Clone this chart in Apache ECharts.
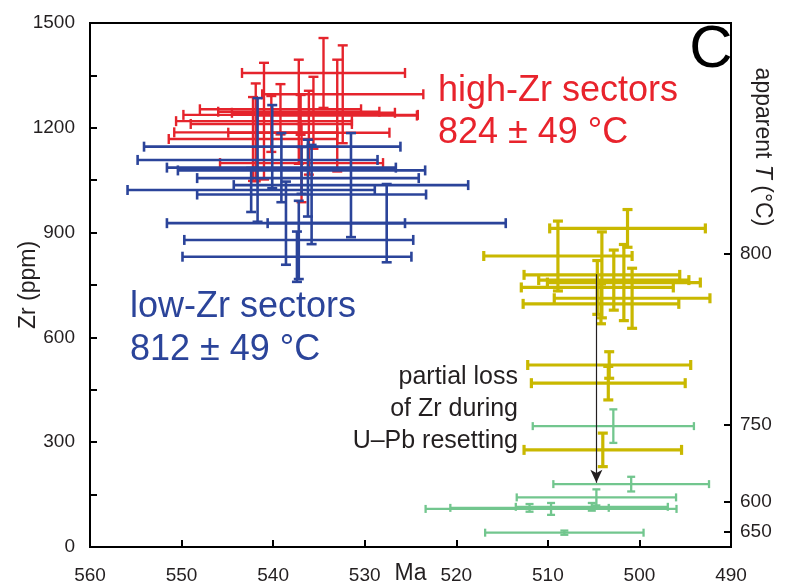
<!DOCTYPE html>
<html>
<head>
<meta charset="utf-8">
<script src="https://cdn.jsdelivr.net/npm/echarts@6/dist/echarts.min.js"></script>
<style>
  html, body { margin: 0; padding: 0; background: #fff; }
  #chart { width: 793px; height: 584px; }
</style>
</head>
<body>
<div id="chart"></div>
<script>
// each row: [age Ma, age error, Zr ppm, Zr error]
var highZr = [
  [534.5, 8.9, 1357, 100],
  [532.4, 8.8, 1296, 140],
  [539.2, 8.8, 1253, 72],
  [537.2, 8.8, 1246, 149],
  [535.6, 8.9, 1243, 103],
  [541.0, 9.6, 1219, 167],
  [536.1, 8.8, 1186, 120],
  [542.2, 9.2, 1168, 120],
  [536.9, 8.9, 1099, 112],
  [533.0, 8.7, 1235, 160],
  [537.0, 12.8, 1237, 57],
  [541.9, 8.9, 1187, 140],
  [540.2, 8.8, 1211, 80]
];
var lowZr = [
  [540.1, 14.0, 1146, 119],
  [539.1, 12.5, 1086, 99],
  [538.6, 13.0, 927, 119],
  [537.4, 12.5, 831, 72],
  [537.2, 12.5, 879, 112],
  [536.9, 13.5, 1078, 67],
  [536.2, 12.1, 1056, 110],
  [535.8, 12.5, 1009, 142],
  [531.5, 12.8, 1036, 149],
  [542.4, 13.5, 1022, 63],
  [541.7, 13.1, 1108, 177],
  [527.6, 13.0, 927, 112]
];
var resetHigh = [
  [508.9, 8.1, 833, 100],
  [501.3, 8.5, 912, 54],
  [504.6, 8.3, 743, 77],
  [502.8, 8.2, 764, 86],
  [501.7, 8.35, 757, 109],
  [500.8, 8.5, 712, 86],
  [504.1, 8.5, 779, 123],
  [504.2, 8.5, 696, 57],
  [503.3, 8.9, 521, 38],
  [503.4, 8.4, 469, 48],
  [504.0, 8.6, 278, 48]
];
var resetLow = [
  [502.85, 8.8, 346, 48],
  [500.9, 8.5, 180, 21],
  [504.7, 8.7, 142, 23],
  [509.65, 13.7, 109, 17],
  [512.0, 8.65, 112, 11],
  [505.2, 8.3, 115, 11],
  [508.2, 8.65, 41, 6]
];

// apparent temperature ticks on the right axis, placed at Zr values
var tempTickZr = [839, 351, 130, 44];
var tempTickLabels = ['800', '750', '600', '650'];

// resetting arrow
var arrowMa = 504.7;
var arrowZr = [781, 184];

var ink = '#231f20';
var font = 'Liberation Sans, Arial, sans-serif';

function errorBars(width, cap) {
  return function (params, api) {
    var x = api.value(0), ex = api.value(1), y = api.value(2), ey = api.value(3);
    var l = api.coord([x - ex, y]);
    var r = api.coord([x + ex, y]);
    var t = api.coord([x, y + ey]);
    var b = api.coord([x, y - ey]);
    var style = { stroke: api.visual('color'), lineWidth: width, fill: null };
    function seg(x1, y1, x2, y2) {
      return { type: 'line', shape: { x1: x1, y1: y1, x2: x2, y2: y2 }, style: style };
    }
    return {
      type: 'group',
      children: [
        seg(l[0], l[1], r[0], r[1]),
        seg(l[0], l[1] - cap, l[0], l[1] + cap),
        seg(r[0], r[1] - cap, r[0], r[1] + cap),
        seg(t[0], t[1], b[0], b[1]),
        seg(t[0] - cap, t[1], t[0] + cap, t[1]),
        seg(b[0] - cap, b[1], b[0] + cap, b[1])
      ]
    };
  };
}

function errSeries(name, data, color, width, cap) {
  return {
    name: name,
    type: 'custom',
    renderItem: errorBars(width, cap),
    encode: { x: 0, y: 2 },
    itemStyle: { color: color },
    clip: false,
    data: data
  };
}

var tickStyle = { color: '#000', width: 2 };

var chart = echarts.init(document.getElementById('chart'));
var greenSeries = errSeries('reset low', resetLow, '#72c68e', 2.3, 4);
greenSeries.markLine = {
  silent: true,
  symbol: ['none', 'arrow'],
  symbolSize: [9, 13],
  label: { show: false },
  lineStyle: { color: ink, width: 1.2, type: 'solid' },
  data: [[{ coord: [arrowMa, arrowZr[0]] }, { coord: [arrowMa, arrowZr[1]] }]]
};

chart.setOption({
  animation: false,
  grid: {
    left: 90, right: 62, top: 23, bottom: 37,
    outerBoundsMode: 'none',
    containLabel: false,
    show: true, borderColor: '#000', borderWidth: 2
  },
  xAxis: {
    type: 'value',
    inverse: true,
    min: 490, max: 560, interval: 10,
    name: 'Ma',
    nameLocation: 'middle',
    nameGap: 15,
    nameMoveOverlap: false,
    nameTextStyle: { fontSize: 23, color: ink, fontFamily: font },
    axisLine: { show: false },
    axisTick: { inside: true, length: 7, lineStyle: tickStyle },
    axisLabel: { margin: 19, fontSize: 19, color: ink, fontFamily: font },
    splitLine: { show: false }
  },
  yAxis: [{
    type: 'value',
    min: 0, max: 1500, interval: 300,
    name: 'Zr (ppm)',
    nameLocation: 'middle',
    nameGap: 50,
    nameRotate: 90,
    nameMoveOverlap: false,
    nameTextStyle: { fontSize: 23, color: ink, fontFamily: font },
    axisLine: { show: false },
    axisTick: { inside: true, length: 7, lineStyle: tickStyle },
    minorTick: { show: true, splitNumber: 2, length: 7, lineStyle: tickStyle },
    axisLabel: {
      margin: 15, fontSize: 19, color: ink, fontFamily: font,
      formatter: function (v) { return String(v); }
    },
    splitLine: { show: false },
    minorSplitLine: { show: false }
  }, {
    type: 'value',
    position: 'right',
    min: 0, max: 1500,
    axisLine: { show: false },
    axisTick: { inside: true, length: 7, lineStyle: tickStyle, customValues: tempTickZr },
    axisLabel: {
      margin: 9, fontSize: 19, color: ink, fontFamily: font,
      customValues: tempTickZr,
      formatter: function (v) { return tempTickLabels[tempTickZr.indexOf(v)]; }
    },
    splitLine: { show: false }
  }],
  graphic: [
    { type: 'text', x: 711, y: 50, style: { text: 'C', font: '60px ' + font, fill: '#000', align: 'center', verticalAlign: 'middle' } },
    { type: 'text', x: 438, y: 91, style: { text: 'high-Zr sectors', font: '36px ' + font, fill: '#e8232c', align: 'left', verticalAlign: 'middle' } },
    { type: 'text', x: 438, y: 133, style: { text: '824 ± 49 °C', font: '36px ' + font, fill: '#e8232c', align: 'left', verticalAlign: 'middle' } },
    { type: 'text', x: 130, y: 307, style: { text: 'low-Zr sectors', font: '36px ' + font, fill: '#2b449a', align: 'left', verticalAlign: 'middle' } },
    { type: 'text', x: 130, y: 350, style: { text: '812 ± 49 °C', font: '36px ' + font, fill: '#2b449a', align: 'left', verticalAlign: 'middle' } },
    { type: 'text', x: 518, y: 377, style: { text: 'partial loss', font: '25px ' + font, fill: ink, align: 'right', verticalAlign: 'middle' } },
    { type: 'text', x: 518, y: 409, style: { text: 'of Zr during', font: '25px ' + font, fill: ink, align: 'right', verticalAlign: 'middle' } },
    { type: 'text', x: 518, y: 441, style: { text: 'U–Pb resetting', font: '25px ' + font, fill: ink, align: 'right', verticalAlign: 'middle' } },
    {
      type: 'text', x: 762, y: 147, rotation: -Math.PI / 2,
      style: {
        text: '{n|apparent }{i|T}{n| (°C)}',
        align: 'center', verticalAlign: 'middle',
        rich: {
          n: { fontSize: 23, fontFamily: font, fill: ink, color: ink },
          i: { fontSize: 23, fontFamily: font, fontStyle: 'italic', fill: ink, color: ink }
        }
      }
    }
  ],
  series: [
    errSeries('high-Zr sectors', highZr, '#e5242c', 2.4, 5),
    errSeries('low-Zr sectors', lowZr, '#2b449a', 2.6, 5),
    errSeries('reset high', resetHigh, '#c9b800', 3.2, 5),
    greenSeries
  ]
});
</script>
</body>
</html>
